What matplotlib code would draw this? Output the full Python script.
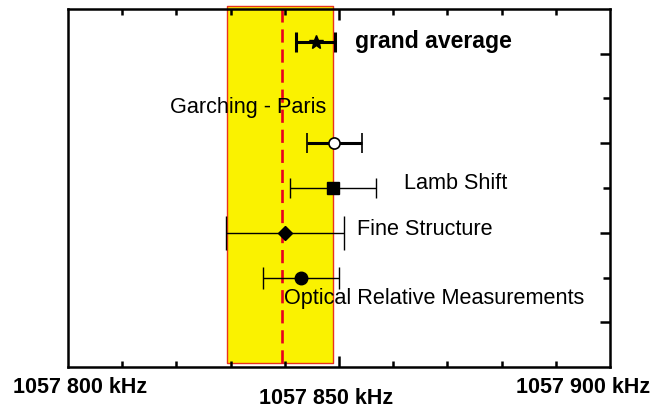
import matplotlib
matplotlib.use("Agg")
import matplotlib.pyplot as plt
import numpy as np

plt.rcParams['font.family'] = ['Liberation Sans', 'DejaVu Sans']

# Data (kHz)
names = ["Optical Relative Measurements", "Fine Structure", "Lamb Shift", "Garching - Paris", "grand average"]
values = [1057838.2, 1057834.8, 1057844.8, 1057845.0, 1057841.2]
errors = [7.9, 12.2, 8.9, 5.7, 4.0]
rows = [2, 3, 4, 5, 7.27]
band_lo, band_hi = 1057822.8, 1057844.8
dashed_value = 1057834.2
tick_labels = ["1057 800 kHz", "1057 850 kHz", "1057 900 kHz"]

fig = plt.figure(figsize=(6.52, 4.11), dpi=100)
ax = fig.add_axes([68/652, 44/411, 542/652, 358/411])
x0, x1 = 1057790.0, 1057902.0
ax.set_xlim(x0, x1)
ax.set_ylim(0, 8)

# yellow band and dashed line
ax.fill_between([band_lo, band_hi], [0.08, 0.08], [8.07, 8.07], facecolor='#FAF200',
                edgecolor='#E8321E', linewidth=1.0, zorder=1, clip_on=False)
ax.plot([dashed_value, dashed_value], [0.08, 8.07], color='#E8001E', lw=1.9,
        linestyle=(0, (5, 2.6)), zorder=2, clip_on=False)

styles = [
    dict(fmt='o', ms=9, mfc='black', mec='black', elinewidth=1.0, capsize=8, capthick=1.0),
    dict(fmt='D', ms=6.8, mfc='black', mec='black', elinewidth=1.0, capsize=12, capthick=1.0),
    dict(fmt='s', ms=8, mfc='black', mec='black', elinewidth=1.0, capsize=7.5, capthick=1.0),
    dict(fmt='o', ms=8, mfc='white', mec='black', mew=1.2, elinewidth=2.2, capsize=7.5, capthick=2.2),
    dict(fmt='*', ms=10, mfc='black', mec='black', elinewidth=2.2, capsize=7.5, capthick=2.2),
]
for v, e, r, st in zip(values, errors, rows, styles):
    ax.errorbar([v], [r], xerr=[e], color='black', zorder=4, **st)

# labels
label_pos = [(1057834.6, 1.54), (1057849.7, 3.08), (1057859.4, 4.11), (1057811.1, 5.79), (1057849.3, 7.28)]
for name, (tx, ty) in zip(names, label_pos):
    ax.text(tx, ty, name, fontsize=16.6 if name == "grand average" else 15.6,
            fontweight='bold' if name == "grand average" else 'normal',
            ha='left', va='center', zorder=5)

# spines and ticks
for s in ax.spines.values():
    s.set_linewidth(1.8)
ax.set_xticks([x0 + (x1 - x0) / 2], minor=False)
ax.set_xticks(np.linspace(x0, x1, 11)[1:-1], minor=True)
ax.tick_params(axis='x', which='major', direction='in', length=8, width=1.8,
               top=True, bottom=True, labelbottom=False)
ax.tick_params(axis='x', which='minor', direction='in', length=4.5, width=1.8,
               top=True, bottom=True)
ax.set_yticks([1, 3, 5, 7])
ax.set_yticks([2, 4, 6], minor=True)
ax.tick_params(axis='y', which='major', direction='in', length=7, width=1.8,
               left=False, right=True, labelleft=False)
ax.tick_params(axis='y', which='minor', direction='in', length=5, width=1.8,
               left=False, right=True)

tick_pos = [(0.022, -0.056), (0.476, -0.089), (0.950, -0.056)]
for lab, (px, py) in zip(tick_labels, tick_pos):
    ax.text(px, py, lab, transform=ax.transAxes, ha='center', va='center',
            fontsize=15.5, fontweight='bold')

fig.savefig("out.png", dpi=100)
